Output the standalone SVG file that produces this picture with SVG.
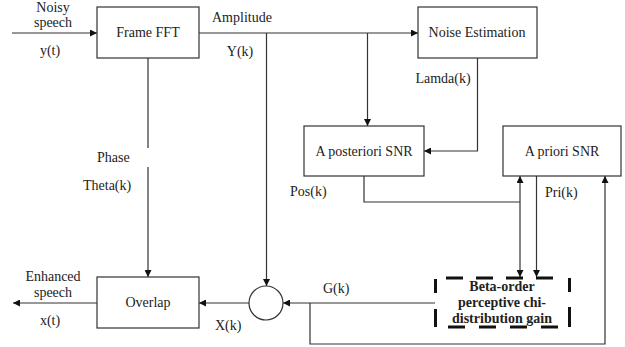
<svg xmlns="http://www.w3.org/2000/svg" width="625" height="347" viewBox="0 0 625 347" font-family="'Liberation Serif','Times New Roman',serif">
<style>
.box{fill:#fff;stroke:#333;stroke-width:1.2}
.ln{fill:none;stroke:#333;stroke-width:1.2}
.dash{fill:none;stroke:#111;stroke-width:3}
text{font-family:"Liberation Serif","Times New Roman",serif;font-size:14px;fill:#222}
.c{text-anchor:middle}
.b{font-weight:bold;font-size:14px}
</style>
<defs>
<marker id="ah" viewBox="0 0 10 10" refX="10" refY="5" markerWidth="7" markerHeight="7" markerUnits="userSpaceOnUse" orient="auto">
<path d="M0,0 L10,5 L0,10 z" fill="#111"/>
</marker>
</defs>
<rect width="625" height="347" fill="#fff"/>
<g id="connectors">
<path class="ln" d="M12,33 H97" marker-end="url(#ah)"/>
<path class="ln" d="M199,33 H418" marker-end="url(#ah)"/>
<path class="ln" d="M367.5,33 V126" marker-end="url(#ah)"/>
<path class="ln" d="M266.5,33 V286" marker-end="url(#ah)"/>
<path class="ln" d="M148,58 V148 M148,167 V277" marker-end="url(#ah)"/>
<path class="ln" d="M477.5,58 V151 H424" marker-end="url(#ah)"/>
<path class="ln" d="M364,176 V202 H520"/>
<path class="ln" d="M520,202 V176" marker-end="url(#ah)"/>
<path class="ln" d="M520,202 V277" marker-end="url(#ah)"/>
<path class="ln" d="M536.5,176 V277" marker-end="url(#ah)"/>
<path class="ln" d="M435,303 H283" marker-end="url(#ah)"/>
<path class="ln" d="M310,303 V344 H605 V176" marker-end="url(#ah)"/>
<path class="ln" d="M249,303 H199" marker-end="url(#ah)"/>
<path class="ln" d="M97,303 H13" marker-end="url(#ah)"/>
</g>
<g id="frame-fft">
<rect class="box" x="97" y="7" width="102" height="51"/>
<text class="c" x="148" y="37">Frame FFT</text>
</g>
<g id="noise-estimation">
<rect class="box" x="418" y="7" width="119" height="51"/>
<text class="c" x="477" y="37">Noise Estimation</text>
</g>
<g id="a-posteriori-snr">
<rect class="box" x="304" y="126" width="120" height="50"/>
<text class="c" x="364" y="156">A posteriori SNR</text>
</g>
<g id="a-priori-snr">
<rect class="box" x="503" y="126" width="118" height="50"/>
<text class="c" x="562" y="156">A priori SNR</text>
</g>
<g id="overlap">
<rect class="box" x="97" y="277" width="102" height="51"/>
<text class="c" x="148" y="307">Overlap</text>
</g>
<g id="multiplier">
<circle class="box" cx="266" cy="303" r="17"/>
</g>
<g id="beta-gain">
<rect x="436" y="278" width="133" height="49" fill="#fff"/>
<path class="dash" d="M446,278 H557" stroke-dasharray="17 13"/>
<path class="dash" d="M448,327 H560" stroke-dasharray="17 14"/>
<path class="dash" d="M435.5,279 V293 M435.5,309 V327"/>
<path class="dash" d="M569.5,278 V292 M569.5,307 V327"/>
<text class="c b" x="502" y="291">Beta-order</text>
<text class="c b" x="502" y="307">perceptive chi-</text>
<text class="c b" x="502" y="323">distribution gain</text>
</g>
<g id="labels">
<text class="c" x="53" y="12">Noisy</text>
<text class="c" x="53" y="27">speech</text>
<text class="c" x="50" y="55">y(t)</text>
<text x="212" y="22">Amplitude</text>
<text class="c" x="240" y="56">Y(k)</text>
<text class="c" x="443" y="83">Lamda(k)</text>
<text x="97" y="162">Phase</text>
<text x="83" y="190">Theta(k)</text>
<text x="290" y="196">Pos(k)</text>
<text x="545" y="197">Pri(k)</text>
<text class="c" x="53" y="281">Enhanced</text>
<text class="c" x="53" y="297">speech</text>
<text class="c" x="50" y="325">x(t)</text>
<text x="215" y="330">X(k)</text>
<text x="323" y="293">G(k)</text>
</g>
</svg>
